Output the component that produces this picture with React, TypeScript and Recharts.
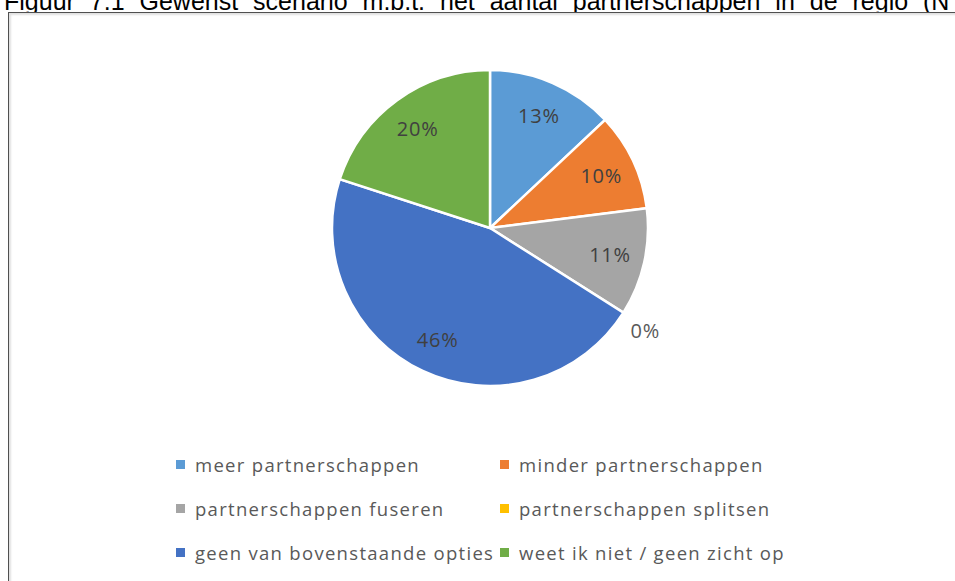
import React from 'react';
import { PieChart, Pie, Cell, Legend } from 'recharts';

const categories = [
  'meer partnerschappen',
  'minder partnerschappen',
  'partnerschappen fuseren',
  'partnerschappen splitsen',
  'geen van bovenstaande opties',
  'weet ik niet / geen zicht op',
];
const values = [13, 10, 11, 0, 46, 20];
const colors = ['#5B9BD5', '#ED7D31', '#A5A5A5', '#FFC000', '#4472C4', '#70AD47'];
const title = 'Figuur 7.1 Gewenst scenario m.b.t. het aantal partnerschappen in de regio (N';

const data = categories.map((name, i) => ({ name, value: values[i] }));

const FONT = '"Open Sans", "Noto Sans", sans-serif';
const RAD = Math.PI / 180;

const renderLabel = (props: any) => {
  const { cx, cy, midAngle, value } = props;
  const r = value === 0 ? 184 : 123;
  const x = cx + r * Math.cos(-midAngle * RAD);
  const y = cy + r * Math.sin(-midAngle * RAD) + (value === 0 ? 4 : 0);
  return (
    <text
      x={x}
      y={y}
      fill={value === 0 ? '#595959' : '#404040'}
      fontSize={20}
      fontFamily={FONT}
      letterSpacing={0.8}
      textAnchor="middle"
      dominantBaseline="central"
    >
      {`${value}%`}
    </text>
  );
};

const renderLegend = () => (
  <div style={{ position: 'relative', width: 955, height: 140 }}>
    {categories.map((c, i) => {
      const col = i % 2;
      const row = Math.floor(i / 2);
      const left = col === 0 ? 176 : 500;
      const top = row * 44;
      return (
        <div
          key={c}
          style={{
            position: 'absolute',
            left,
            top,
            height: 26,
            display: 'flex',
            alignItems: 'center',
            fontFamily: FONT,
            fontSize: 18.5,
            letterSpacing: 1.3,
            color: '#595959',
            whiteSpace: 'nowrap',
          }}
        >
          <span style={{ display: 'inline-block', width: 9, height: 9, background: colors[i], marginRight: 10 }} />
          <span>{c}</span>
        </div>
      );
    })}
  </div>
);

export default function App() {
  return (
    <div style={{ position: 'fixed', left: 0, top: 0, width: 955, height: 581, overflow: 'hidden', background: '#fff' }}>
      <svg width={955} height={30} style={{ position: 'absolute', left: 0, top: 0 }}>
        <text
          x={4}
          y={9.5}
          fontFamily='"Liberation Sans", Arial, sans-serif'
          fontSize={25}
          wordSpacing={8}
          fill="#000"
        >
          {title}
        </text>
      </svg>
      <div
        style={{
          position: 'absolute',
          left: 8,
          top: 12,
          width: 1000,
          height: 700,
          background: '#fff',
          borderLeft: '1.5px solid #505050',
          borderTop: '1.5px solid #505050',
          boxShadow: 'inset 2px 2px 2px rgba(0,0,0,0.12)',
        }}
      />
      <div style={{ position: 'absolute', left: 0, top: 0 }}>
        <PieChart width={955} height={581} margin={{ top: 0, right: 0, bottom: 0, left: 0 }}>
          <Pie
            data={data}
            dataKey="value"
            nameKey="name"
            cx={490}
            cy={228}
            outerRadius={158}
            startAngle={90}
            endAngle={-270}
            stroke="#ffffff"
            strokeWidth={2.5}
            label={renderLabel}
            labelLine={false}
            isAnimationActive={false}
          >
            {data.map((d, i) => (
              <Cell key={d.name} fill={colors[i]} />
            ))}
          </Pie>
          <Legend
            content={renderLegend}
            wrapperStyle={{ position: 'absolute', left: 0, top: 451, width: 955, height: 140 }}
          />
        </PieChart>
      </div>
    </div>
  );
}
